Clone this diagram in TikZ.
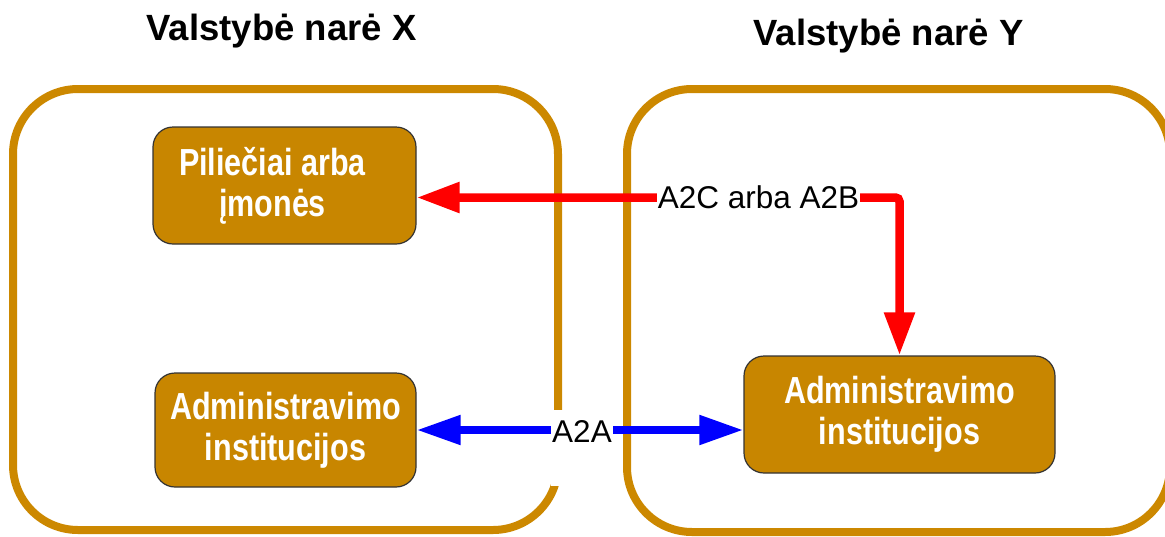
\documentclass[tikz,border=0pt]{standalone}
\usepackage{fontspec}
\setmainfont{Liberation Sans}
\newfontfamily\narrowsans[FakeStretch=0.81]{Liberation Sans}
\usetikzlibrary{arrows.meta}
\definecolor{gold}{RGB}{204,136,0}
\definecolor{boxfill}{RGB}{200,134,0}
\begin{document}
\begin{tikzpicture}[x=1pt, y=-1pt,
  container/.style={draw=gold, line width=8pt, rounded corners=65pt},
  box/.style={draw=black!80, line width=1.2pt, fill=boxfill, rounded corners=20pt,
    inner sep=0pt, text=white, align=center,
    font=\narrowsans\bfseries\fontsize{37.7}{41}\selectfont},
  boxtext/.style={text=white, align=center, inner sep=0pt,
    font=\narrowsans\bfseries\fontsize{37.7}{41}\selectfont},
  title/.style={font=\bfseries\fontsize{36.5}{40}\selectfont, anchor=base, inner sep=0pt},
  wirelabel/.style={fill=white, font=\fontsize{31.5}{36}\selectfont, anchor=base,
    inner xsep=1pt, inner ysep=1pt},
  redwire/.style={draw=red, line width=8.5pt, rounded corners=4pt,
    {Triangle[length=43pt,width=29pt]}-{Triangle[length=43pt,width=29pt]}},
  bluewire/.style={draw=blue, line width=8pt,
    {Triangle[length=44pt,width=28pt]}-{Triangle[length=44pt,width=28pt]}}
]
\useasboundingbox (0,0) rectangle (1165,536);

% member-state frames
\draw[container] (13,89) rectangle (558,530);
\draw[container] (627,89) rectangle (1170,532);

% titles
\node[title] (titleX) at (281.5,40) {Valstybė narė X};
\node[title] (titleY) at (888.5,45) {Valstybė narė Y};

% actors
\node[box, minimum width=263pt, minimum height=117pt] (pil) at (284.5,185.5) {};
\node[boxtext] (piltext) at ([xshift=-12pt]pil.center) {Piliečiai arba\\įmonės};
\node[box, minimum width=261pt, minimum height=114pt] (admX) at (285.5,430)
  {Administravimo\\institucijos};
\node[box, minimum width=311pt, minimum height=117pt] (admY) at (899.5,414.5)
  {Administravimo\\institucijos};

% connectors
\coordinate (bend) at (899.5,197.5);
\draw[redwire] (admY.north) -- (bend) -- (bend -| pil.east);
\draw[bluewire] (admX.east) -- (admX.east -| admY.west);

% connector labels
\node[wirelabel] (a2c) at (758.5,208) {A2C arba A2B};
\node[wirelabel, text height=32pt, text depth=44pt, inner ysep=0pt] (a2a) at (582,442) {A2A};
\end{tikzpicture}
\end{document}
